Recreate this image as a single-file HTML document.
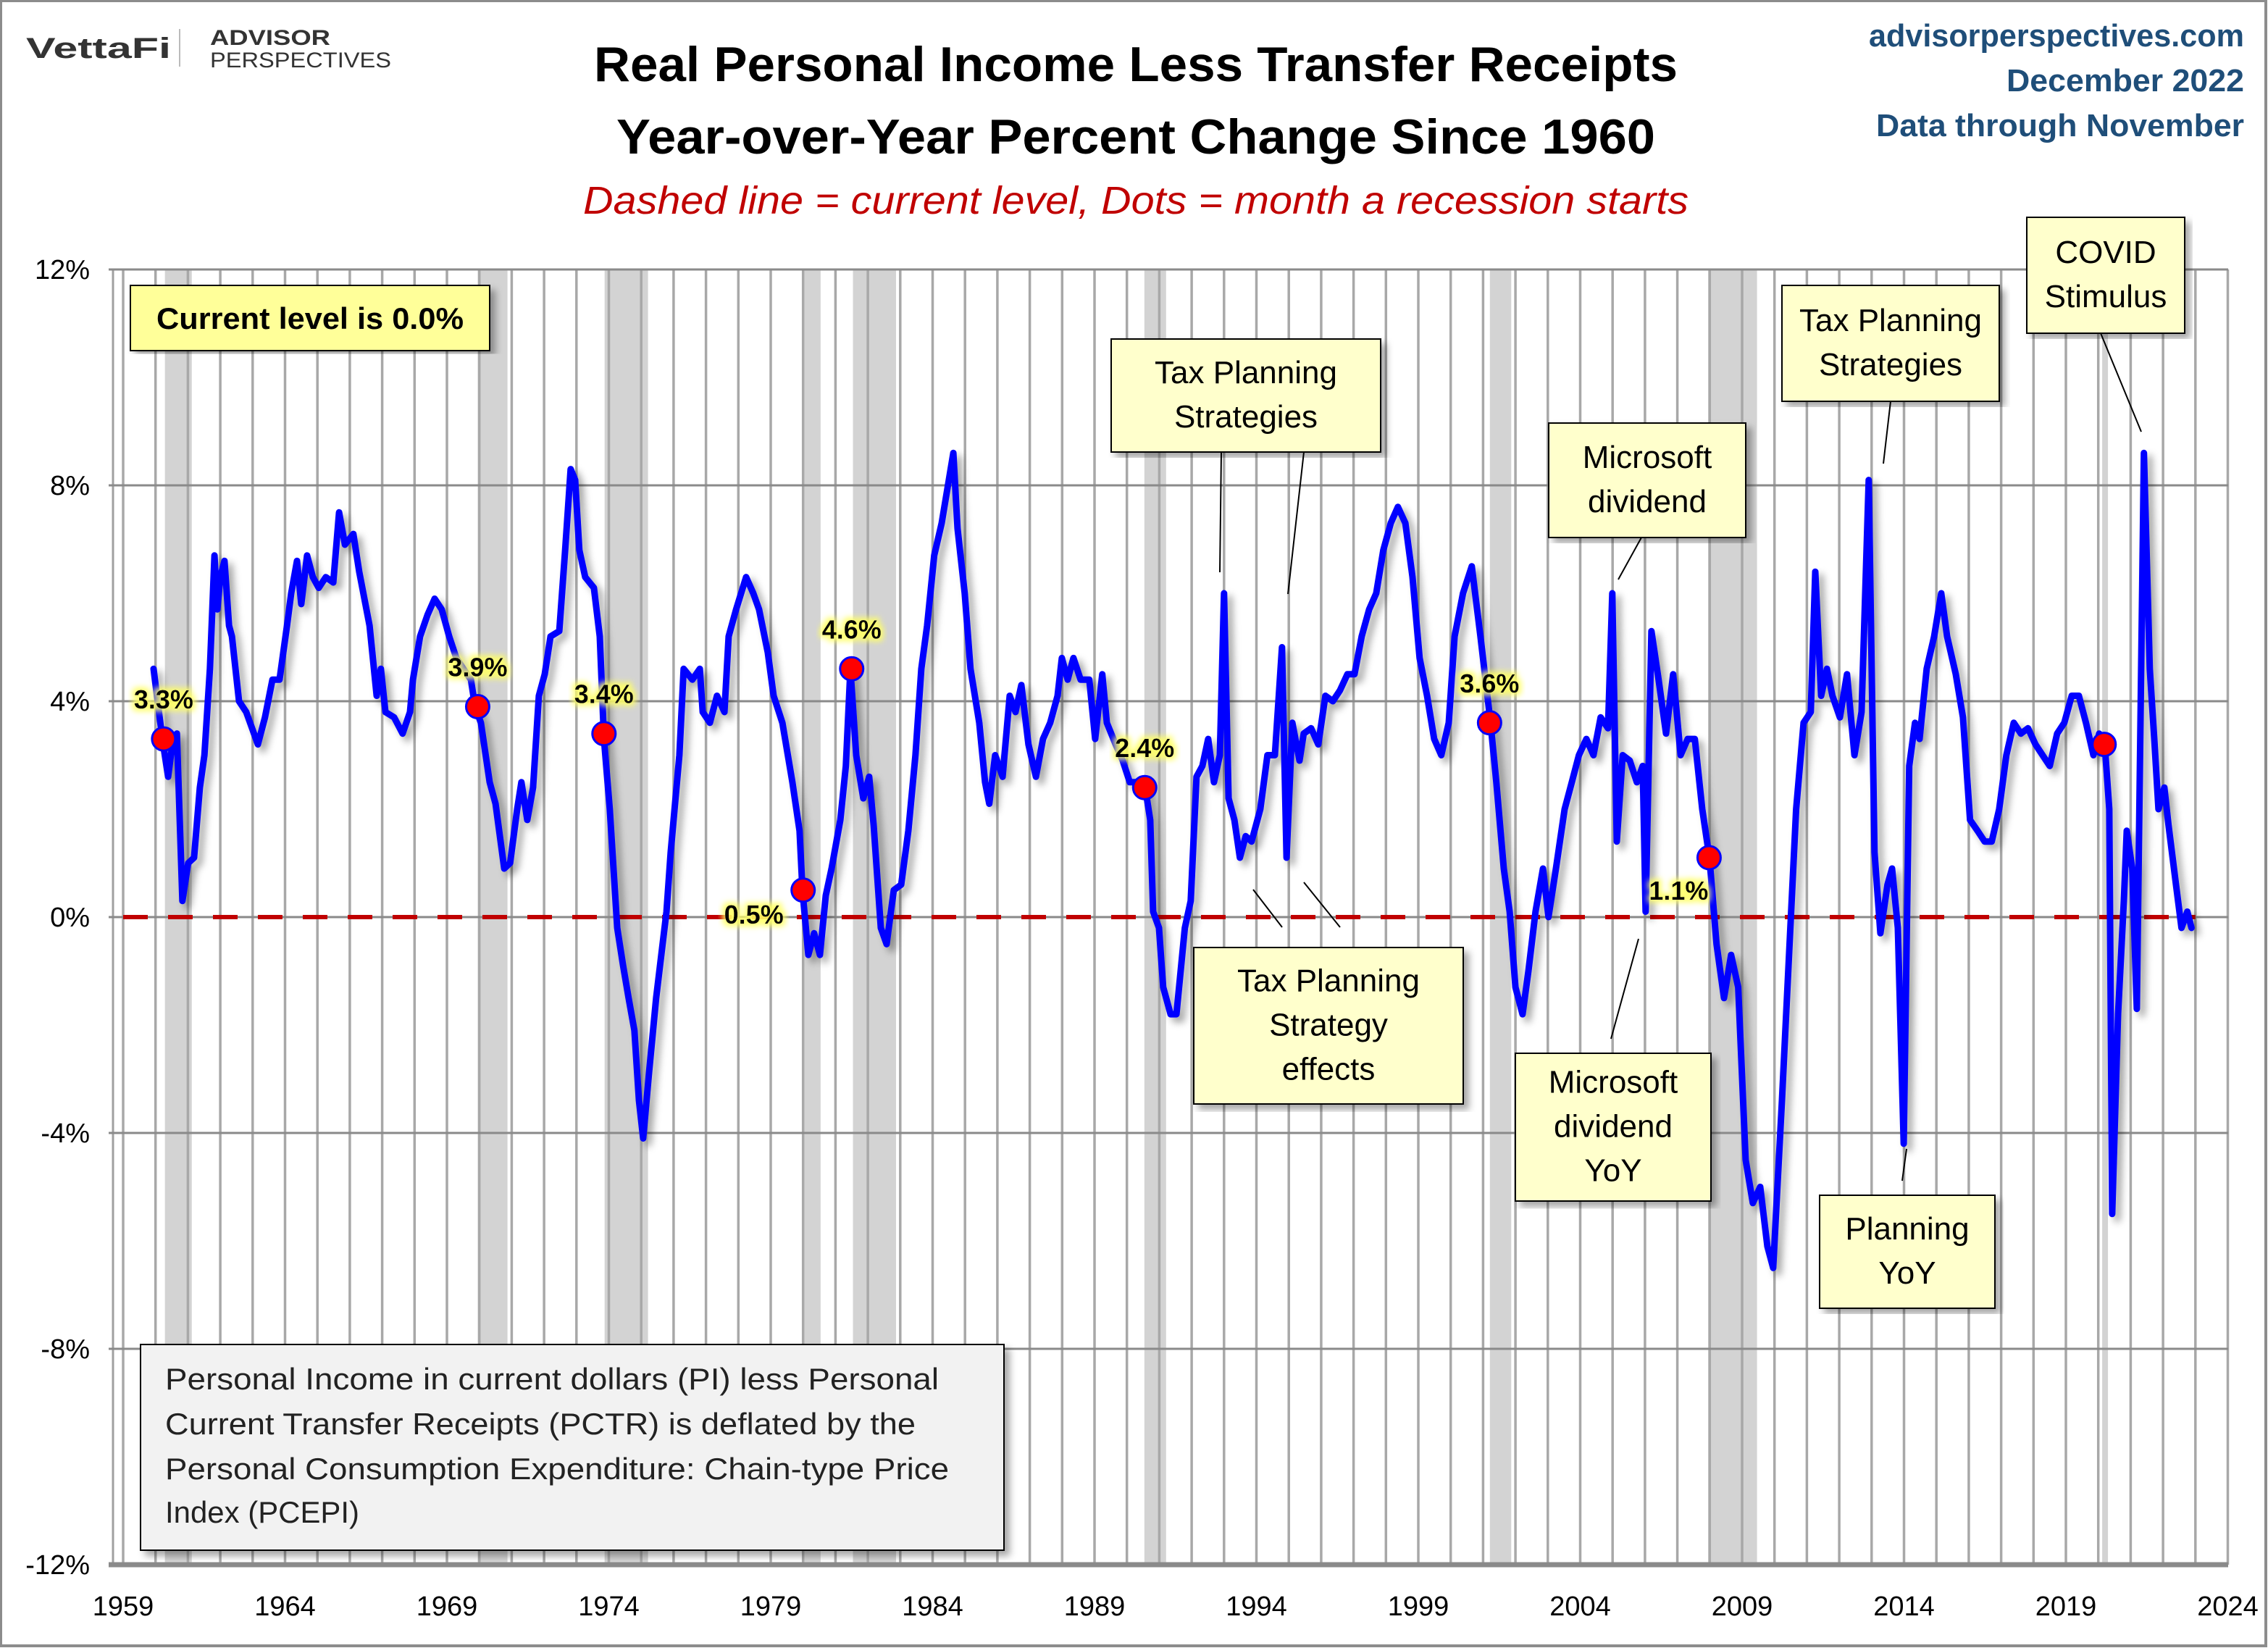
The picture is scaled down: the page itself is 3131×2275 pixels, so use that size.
<!DOCTYPE html>
<html><head><meta charset="utf-8"><title>Real Personal Income Less Transfer Receipts</title>
<style>
html,body{margin:0;padding:0;background:#fff;}
svg{display:block;font-family:"Liberation Sans",Arial,sans-serif;}
</style></head>
<body>
<svg id="chart" width="3131" height="2275" viewBox="0 0 3131 2275" xmlns="http://www.w3.org/2000/svg">
<defs>
<filter id="sh" x="-5%" y="-5%" width="110%" height="110%"><feDropShadow dx="7" dy="7" stdDeviation="5" flood-color="#000" flood-opacity="0.35"/></filter>
<filter id="glow" x="-10%" y="-30%" width="120%" height="160%"><feMorphology operator="dilate" radius="4" in="SourceAlpha" result="d"/><feGaussianBlur in="d" stdDeviation="4" result="b"/><feFlood flood-color="#ffff66" flood-opacity="0.9"/><feComposite in2="b" operator="in" result="g"/><feMerge><feMergeNode in="g"/><feMergeNode in="SourceGraphic"/></feMerge></filter>
</defs>
<rect x="0" y="0" width="3131" height="2275" fill="#fff"/>
<rect x="1" y="1" width="3127" height="2271" fill="none" stroke="#8c8c8c" stroke-width="4"/>
<g id="recessions"></g>
<g id="grid"></g>
<g id="yaxis"></g>
<g id="xaxis"></g>
<line id="zeroLine" stroke="#c00000" stroke-width="6" stroke-dasharray="34,28"/>
<g id="series"></g>
<g id="dots"></g>

<g>
<text x="36" y="80" font-size="40" font-weight="bold" fill="#333" textLength="200" lengthAdjust="spacingAndGlyphs">VettaFi</text>
<line x1="248" y1="40" x2="248" y2="92" stroke="#bbb" stroke-width="2"/>
<text x="290" y="62" font-size="30" font-weight="bold" fill="#333" textLength="166" lengthAdjust="spacingAndGlyphs">ADVISOR</text>
<text x="290" y="93" font-size="30" fill="#333" textLength="250" lengthAdjust="spacingAndGlyphs">PERSPECTIVES</text>
</g>
<text x="1568" y="112" font-size="68" font-weight="bold" text-anchor="middle" fill="#000" textLength="1496" lengthAdjust="spacingAndGlyphs">Real Personal Income Less Transfer Receipts</text>
<text x="1568" y="212" font-size="68" font-weight="bold" text-anchor="middle" fill="#000" textLength="1434" lengthAdjust="spacingAndGlyphs">Year-over-Year Percent Change Since 1960</text>
<text x="1568" y="295" font-size="54" font-style="italic" text-anchor="middle" fill="#c00000" textLength="1526" lengthAdjust="spacingAndGlyphs">Dashed line = current level, Dots = month a recession starts</text>
<g fill="#1f4e79" font-weight="bold" font-size="44" text-anchor="end">
<text x="3098" y="64" textLength="518" lengthAdjust="spacingAndGlyphs">advisorperspectives.com</text>
<text x="3098" y="126" textLength="328" lengthAdjust="spacingAndGlyphs">December 2022</text>
<text x="3098" y="188" textLength="508" lengthAdjust="spacingAndGlyphs">Data through November</text>
</g>

<g filter="url(#sh)">
<rect x="180" y="394" width="496" height="90" fill="#ffff99" stroke="#000" stroke-width="2"/>
</g>
<text x="428" y="454" font-size="42" font-weight="bold" text-anchor="middle" textLength="424" lengthAdjust="spacingAndGlyphs">Current level is 0.0%</text>

<g id="annots"></g>

<g filter="url(#sh)">
<rect x="194" y="1856" width="1192" height="284" fill="#f2f2f2" stroke="#000" stroke-width="2"/>
</g>
<g font-size="42" fill="#222">
<text x="228" y="1918" textLength="1068" lengthAdjust="spacingAndGlyphs">Personal Income in current dollars  (PI) less Personal</text>
<text x="228" y="1980" textLength="1036" lengthAdjust="spacingAndGlyphs">Current Transfer Receipts (PCTR) is deflated by the</text>
<text x="228" y="2042" textLength="1082" lengthAdjust="spacingAndGlyphs">Personal Consumption Expenditure: Chain-type Price</text>
<text x="228" y="2102" textLength="268" lengthAdjust="spacingAndGlyphs">Index (PCEPI)</text>
</g>
</svg>
<script>
const yearOffsets = [0.94,1.21,1.39,1.52,1.66,1.83,2.01,2.19,2.37,2.51,2.68,2.82,2.91,3.00,3.13,3.27,3.36,3.58,3.80,4.16,4.38,4.61,4.83,5.06,5.19,5.37,5.50,5.68,5.86,6.04,6.26,6.49,6.67,6.85,7.11,7.29,7.61,7.83,7.96,8.10,8.37,8.63,8.86,8.95,9.17,9.40,9.62,9.84,10.07,10.29,10.51,10.74,10.87,11.05,11.32,11.50,11.77,11.95,12.17,12.30,12.48,12.66,12.84,13.02,13.20,13.47,13.65,13.82,13.96,14.09,14.27,14.54,14.72,14.85,15.03,15.26,15.44,15.61,15.79,15.93,16.06,16.24,16.46,16.78,16.91,17.18,17.31,17.58,17.81,17.90,18.12,18.34,18.57,18.70,18.93,19.24,19.46,19.64,19.91,20.09,20.36,20.67,20.89,20.98,21.16,21.34,21.52,21.70,21.88,22.15,22.32,22.46,22.64,22.86,23.04,23.18,23.40,23.58,23.80,24.03,24.25,24.47,24.65,24.83,25.05,25.28,25.50,25.64,25.77,25.99,26.17,26.44,26.62,26.75,26.93,27.16,27.38,27.56,27.74,27.96,28.19,28.41,28.63,28.86,28.99,29.17,29.35,29.57,29.84,30.02,30.24,30.38,30.65,30.87,31.09,31.27,31.41,31.54,31.72,31.81,31.99,32.12,32.35,32.53,32.79,32.97,33.15,33.33,33.51,33.69,33.87,34.00,34.14,34.32,34.49,34.67,34.85,35.12,35.34,35.57,35.79,35.93,36.11,36.33,36.46,36.69,36.91,37.13,37.36,37.58,37.81,38.03,38.25,38.48,38.70,38.92,39.15,39.37,39.60,39.82,40.04,40.27,40.49,40.71,40.94,41.12,41.38,41.65,41.92,42.23,42.41,42.64,42.82,43.00,43.22,43.40,43.62,43.85,44.02,44.25,44.52,44.74,44.96,45.19,45.41,45.63,45.86,45.99,46.13,46.31,46.53,46.75,46.93,47.02,47.20,47.42,47.65,47.87,48.10,48.32,48.54,48.77,48.99,49.21,49.44,49.66,49.88,50.11,50.33,50.56,50.78,50.96,51.23,51.45,51.67,51.90,52.12,52.26,52.44,52.62,52.79,53.02,53.24,53.47,53.69,53.91,54.09,54.27,54.49,54.63,54.81,54.99,55.16,55.34,55.48,55.70,55.93,56.15,56.33,56.60,56.82,57.04,57.27,57.49,57.71,57.94,58.16,58.39,58.61,58.83,59.06,59.28,59.50,59.73,59.95,60.18,60.40,60.62,60.85,61.03,61.20,61.34,61.43,61.61,61.79,61.88,62.05,62.19,62.41,62.59,62.73,62.86,63.04,63.17,63.40,63.57,63.75,63.88];
const values = [4.6,3.3,2.6,3.2,3.4,0.3,1.0,1.1,2.4,3.0,4.6,6.7,5.7,6.3,6.6,5.4,5.2,4.0,3.8,3.2,3.7,4.4,4.4,5.4,6.0,6.6,5.8,6.7,6.3,6.1,6.3,6.2,7.5,6.9,7.1,6.4,5.4,4.1,4.6,3.8,3.7,3.4,3.8,4.4,5.2,5.6,5.9,5.7,5.2,4.8,4.6,4.4,3.9,3.6,2.5,2.1,0.9,1.0,2.0,2.5,1.8,2.4,4.1,4.5,5.2,5.3,6.8,8.3,8.1,6.8,6.3,6.1,5.2,3.3,2.0,-0.2,-0.9,-1.5,-2.1,-3.4,-4.1,-2.9,-1.5,0.1,1.2,3.0,4.6,4.4,4.6,3.8,3.6,4.1,3.8,5.2,5.7,6.3,6.0,5.7,4.9,4.1,3.6,2.5,1.6,0.5,-0.7,-0.3,-0.7,0.4,0.9,1.8,2.8,4.6,3.0,2.2,2.6,1.7,-0.2,-0.5,0.5,0.6,1.6,3.0,4.6,5.4,6.7,7.3,8.1,8.6,7.2,6.0,4.6,3.6,2.5,2.1,3.0,2.6,4.1,3.8,4.3,3.2,2.6,3.3,3.6,4.1,4.8,4.4,4.8,4.4,4.4,3.3,4.5,3.6,3.2,2.9,2.5,2.5,2.4,2.5,1.8,0.1,-0.2,-1.3,-1.8,-1.8,-0.2,0.3,2.6,2.8,3.3,2.5,3.0,6.0,2.2,1.8,1.1,1.5,1.4,2.0,3.0,3.0,5.0,1.1,3.6,2.9,3.4,3.5,3.2,4.1,4.0,4.2,4.5,4.5,5.2,5.7,6.0,6.8,7.3,7.6,7.3,6.3,4.8,4.1,3.3,3.0,3.6,5.2,6.0,6.5,5.2,3.6,2.5,0.9,0.1,-1.3,-1.8,-1.0,0.1,0.9,0.0,0.9,2.0,2.5,3.0,3.3,3.0,3.7,3.5,6.0,1.4,3.0,2.9,2.5,2.8,0.1,5.3,4.4,3.4,4.5,3.0,3.3,3.3,2.0,1.1,-0.5,-1.5,-0.7,-1.3,-4.5,-5.3,-5.0,-6.1,-6.5,-3.4,-0.7,2.0,3.6,3.8,6.4,4.1,4.6,4.1,3.7,4.5,3.0,3.8,8.1,1.2,-0.3,0.6,0.9,-0.2,-4.2,2.8,3.6,3.3,4.6,5.2,6.0,5.2,4.5,3.7,1.8,1.6,1.4,1.4,2.0,3.0,3.6,3.4,3.5,3.2,3.0,2.8,3.4,3.6,4.1,4.1,3.6,3.0,3.4,3.2,2.0,-5.5,-1.8,0.3,1.6,0.9,-1.7,8.6,4.6,3.3,2.0,2.4,1.7,0.6,-0.2,0.1,-0.2,0.0];
const recessionStarts = [1960.29,1969.95,1973.87,1980.04,1981.54,1990.54,2001.21,2007.95,2020.12];
const recessionEnds   = [1961.12,1970.87,1975.21,1980.54,1982.87,1991.21,2001.87,2009.46,2020.29];
const dotYears  = [1960.25,1969.95,1973.85,1980.0,1981.5,1990.55,2001.2,2007.98,2020.18];
const dotValues = [3.3,3.9,3.4,0.5,4.6,2.4,3.6,1.1,3.2];
const dotLabels = ["3.3%","3.9%","3.4%","0.5%","4.6%","2.4%","3.6%","1.1%",""];
const yTicks = [12,8,4,0,-4,-8,-12];
const xTicks = [1959,1964,1969,1974,1979,1984,1989,1994,1999,2004,2009,2014,2019,2024];
const currentLevel = 0.0;

const X0=170, PXY=44.7, Y0=1266, PXV=74.5;
function xs(yr){return X0+(yr-1959)*PXY;}
function ys(v){return Y0-v*PXV;}
const NS="http://www.w3.org/2000/svg";
function mk(tag,attrs,parent){const e=document.createElementNS(NS,tag);for(const k in attrs)e.setAttribute(k,attrs[k]);parent.appendChild(e);return e;}

const rg=document.getElementById('recessions');
recessionStarts.forEach((s,i)=>{
  const r=mk('rect',{x:xs(s),y:ys(12),width:Math.max(8,xs(recessionEnds[i])-xs(s)),height:ys(-12)-ys(12),fill:'#d3d3d3'},rg);
  
  
});
const gg=document.getElementById('grid');
for(let yr=1959;yr<=2024;yr++){
  const l=mk('line',{x1:xs(yr),x2:xs(yr),y1:ys(12),y2:ys(-12),stroke:'#a8a8a8','stroke-width':3.5},gg);
  
  
}
mk('line',{x1:156,x2:156,y1:ys(12),y2:ys(-12),stroke:'#a0a0a0','stroke-width':3},gg);
yTicks.forEach(t=>{
  const l=mk('line',{x1:150,x2:3076,y1:ys(t),y2:ys(t),stroke:'#8a8a8a','stroke-width':t===-12?7:3},gg);
  
  
});
const ya=document.getElementById('yaxis');
yTicks.forEach(t=>{
  const tx=mk('text',{x:124,y:ys(t)+13,'font-size':38,'text-anchor':'end',fill:'#000'},ya);
  tx.textContent=t+'%';
  
  
});
const xa=document.getElementById('xaxis');
xTicks.forEach(t=>{
  const tx=mk('text',{x:xs(t),y:2230,'font-size':38,'text-anchor':'middle',fill:'#000'},xa);
  tx.textContent=t;
  
  
});
const zl=document.getElementById('zeroLine');
zl.setAttribute('x1',xs(1959));zl.setAttribute('x2',xs(2023));
zl.setAttribute('y1',ys(currentLevel));zl.setAttribute('y2',ys(currentLevel));
const sg=document.getElementById('series');
let d='';
yearOffsets.forEach((o,i)=>{d+=(i?'L':'M')+xs(1959+o).toFixed(1)+','+ys(values[i]).toFixed(1);});
const p=mk('path',{d:d,fill:'none',stroke:'#0000ff','stroke-width':9,'stroke-linejoin':'round','stroke-linecap':'round',filter:'url(#sh)'},sg);


const dg=document.getElementById('dots');
dotYears.forEach((yr,i)=>{
  const c=mk('circle',{cx:xs(yr),cy:ys(dotValues[i]),r:16,fill:'#ff0000',stroke:'#0000ff','stroke-width':3},dg);
  
  
  if(dotLabels[i]){
    let lx=xs(yr), ly=ys(dotValues[i])-42;
    if(dotLabels[i]==='0.5%'){lx=xs(yr)-68;ly=ys(dotValues[i])+46;}
    if(dotLabels[i]==='1.1%'){lx=xs(yr)-42;ly=ys(dotValues[i])+58;}
    const t=mk('text',{x:lx,y:ly,'font-size':36,'font-weight':'bold','text-anchor':'middle',fill:'#000',filter:'url(#glow)'},dg);
    t.textContent=dotLabels[i];
    
    
  }
});
const ag=document.getElementById('annots');
const boxes=[
  {x:1534,y:468,w:372,h:156,lines:["Tax Planning","Strategies"],leaders:[[1686,624,1684,790],[1800,624,1778,820]]},
  {x:2138,y:584,w:272,h:158,lines:["Microsoft","dividend"],leaders:[[2266,742,2234,800]]},
  {x:2460,y:394,w:300,h:160,lines:["Tax Planning","Strategies"],leaders:[[2610,554,2600,640]]},
  {x:2798,y:300,w:218,h:160,lines:["COVID","Stimulus"],leaders:[[2900,460,2956,596]]},
  {x:1648,y:1308,w:372,h:216,lines:["Tax Planning","Strategy","effects"],leaders:[[1730,1228,1770,1280],[1800,1218,1850,1280]]},
  {x:2092,y:1454,w:270,h:204,lines:["Microsoft","dividend","YoY"],leaders:[[2224,1434,2262,1296]]},
  {x:2512,y:1650,w:242,h:156,lines:["Planning","YoY"],leaders:[[2632,1586,2626,1630]]}
];
boxes.forEach(b=>{
  b.leaders.forEach(L=>{
    const l=mk('line',{x1:L[0],y1:L[1],x2:L[2],y2:L[3],stroke:'#000','stroke-width':2},ag);
    
    
  });
  const r=mk('rect',{x:b.x,y:b.y,width:b.w,height:b.h,fill:'#ffffcc',stroke:'#000','stroke-width':2,filter:'url(#sh)'},ag);
  
  
  const n=b.lines.length, lh=61, top=b.y+b.h/2-(n*lh)/2+lh*0.72;
  b.lines.forEach((s,k)=>{
    const t=mk('text',{x:b.x+b.w/2,y:top+k*lh,'font-size':44,'text-anchor':'middle',fill:'#000'},ag);
    t.textContent=s;
    
    
  });
});
</script>
</body></html>
